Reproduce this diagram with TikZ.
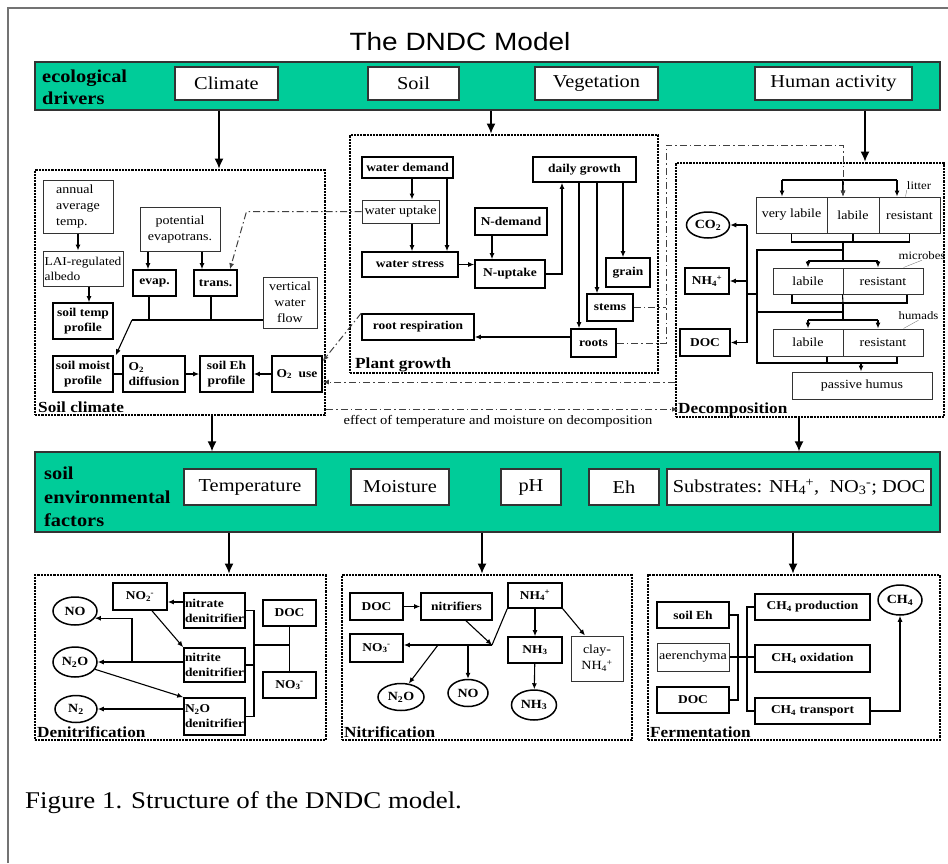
\documentclass[tikz,border=0pt]{standalone}
\usepackage{fontspec}
\setmainfont{Liberation Serif}[FakeStretch=1.12]
\newfontfamily\titlefont{Liberation Sans}[FakeStretch=1.12]
\usetikzlibrary{shapes.geometric, arrows.meta}
\definecolor{bandgreen}{RGB}{0,204,153}
\newcommand{\chg}[2]{\textsubscript{#1}\kern-0.5pt\textsuperscript{#2}}

\begin{document}
\begin{tikzpicture}[x=1pt, y=-1pt, >={Latex[length=6pt,width=5pt]},  % 以像素为单位, y 轴向下
    wh/.style 2 args={minimum width=#1, minimum height=#2},
    band/.style={draw=black!80, line width=1.3pt, fill=bandgreen, inner sep=0pt},
    drv/.style={draw=black!80, line width=1.5pt, fill=white, inner sep=0pt, font=\fontsize{18.2}{21}\selectfont},
    bx/.style={draw, line width=1.6pt, inner sep=0pt, align=center, font=\bfseries\fontsize{12}{15}\selectfont},
    tbx/.style={draw=black!80, line width=1pt, inner sep=0pt, align=center, font=\fontsize{12.5}{16}\selectfont},
    gas/.style={ellipse, draw, line width=1.5pt, inner sep=0pt, font=\bfseries\fontsize{12.5}{15}\selectfont},
    sect/.style={draw, line width=2.8pt, dash pattern=on 2.2pt off 1pt, inner sep=0pt},
    slabel/.style={anchor=base west, inner sep=0pt, font=\bfseries\fontsize{15.4}{17}\selectfont},
    tag/.style={inner sep=0pt, font=\fontsize{11.4}{13}\selectfont},
    lnk/.style={line width=1.1pt},
    dd/.style={black!75, line width=1pt, dash pattern=on 7pt off 3pt on 1.5pt off 3pt},
    big/.style={line width=1.3pt, -{Latex[length=10pt,width=9pt]}}]
    \useasboundingbox (0,0) rectangle (948,863);
    \draw[black!55, line width=1.5pt] (8,863) -- (8,8) -- (948,8);  % 页面边框

    % 标题与生态驱动因子
    \node[font=\titlefont\fontsize{25}{28}\selectfont] (title) at (460,42) {The DNDC Model};
    \node[band, wh={905}{48}] (drivers) at (487.5,86) {};
    \node[anchor=west, align=left, inner sep=0pt, font=\bfseries\fontsize{18.2}{22}\selectfont] (drvtxt) at (42,87) {ecological\\drivers};
    \node[drv, wh={103}{33}] (climate) at (226.5,83.5) {Climate};
    \node[drv, wh={91}{33}] (soil) at (413.5,83.5) {Soil};
    \node[drv, wh={123}{33}] (veg) at (596.5,83.5) {Vegetation};
    \node[drv, wh={157}{33}] (human) at (833.5,83.5) {Human activity};

    % 三个子模型的虚线框
    \node[sect, wh={290}{245}] (soilclim) at (180,292.5) {};
    \node[sect, wh={308}{238}] (plant) at (504,254) {};
    \node[sect, wh={268}{254}] (decomp) at (810,290) {};
    \node[slabel] (scl) at (38,412) {Soil climate};
    \node[slabel] (pgl) at (355,368) {Plant growth};
    \node[slabel] (dcl) at (678,413) {Decomposition};

    \draw[big] ([xshift=-7.5]climate.south |- drivers.south) -- ([xshift=-7.5]climate.south |- soilclim.north);
    \draw[big] ([xshift=-13]plant.north |- drivers.south) -- ([xshift=-13]plant.north);
    \draw[big] ([xshift=31.5]human.south |- drivers.south) -- ([xshift=31.5]human.south |- decomp.north);

    % Soil climate
    \node[tbx, wh={70}{53}, align=left] (annual) at (78,206.5) {annual\\average\\temp.};
    \node[tbx, wh={80}{35}, align=left, font=\fontsize{12}{15}\selectfont] (lai) at (83,268.5) {LAI-regulated\\albedo};
    \node[bx, wh={60}{36}] (stemp) at (83,321) {soil temp\\profile};
    \node[tbx, wh={80}{44}] (pet) at (180,229) {potential\\evapotrans.};
    \node[bx, wh={43}{26}] (evap) at (154.5,283) {evap.};
    \node[bx, wh={43}{26}] (trans) at (215.5,283) {trans.};
    \node[tbx, wh={54}{51}] (vflow) at (290,302.5) {vertical\\water\\flow};
    \node[bx, wh={60}{36}] (smoist) at (83,374) {soil moist\\profile};
    \node[bx, wh={62}{36}, align=left] (o2diff) at (154,374) {O\textsubscript{2}\\diffusion};
    \node[bx, wh={53}{36}] (seh) at (226.5,374) {soil Eh\\profile};
    \node[bx, wh={50}{36}] (o2use) at (297,374) {O\textsubscript{2}\ \ use};

    \draw[lnk,->] (annual.south) -- (annual.south |- lai.north);
    \draw[lnk,->] ([xshift=6]lai.south) -- ([xshift=6]lai.south |- stemp.north);
    \draw[lnk,->] ([xshift=-6.5]evap.north |- pet.south) -- ([xshift=-6.5]evap.north);
    \draw[lnk,->] ([xshift=-13.5]trans.north |- pet.south) -- ([xshift=-13.5]trans.north);
    \coordinate (wj) at (132,320);
    \draw[lnk] ([xshift=-5.5]evap.south) -- ([xshift=-5.5]evap.south |- wj);
    \draw[lnk] ([xshift=-4.5]trans.south) -- ([xshift=-4.5]trans.south |- wj);
    \draw[lnk] (vflow.west |- wj) -- (wj);
    \draw[lnk,->] (wj) -- ([xshift=2]smoist.north east);
    \draw[lnk] (smoist) -- (o2diff);
    \draw[lnk,->] (o2diff) -- (seh);
    \draw[lnk,->] (o2use) -- (seh);

    % Plant growth
    \node[bx, wh={91}{21}] (wdem) at (407.5,167.5) {water demand};
    \node[tbx, wh={77}{23}] (wup) at (400.5,211.5) {water uptake};
    \node[bx, wh={72}{27}] (ndem) at (511,221.5) {N-demand};
    \node[bx, wh={96}{25}] (wstr) at (410,264.5) {water stress};
    \node[bx, wh={70}{28}] (nupt) at (510,274) {N-uptake};
    \node[bx, wh={103}{25}] (dgrow) at (584.5,169.5) {daily growth};
    \node[bx, wh={44}{29}] (grain) at (628,272.5) {grain};
    \node[bx, wh={46}{27}] (stems) at (610,307.5) {stems};
    \node[bx, wh={45}{28}] (roots) at (593.5,343) {roots};
    \node[bx, wh={112}{26}] (rresp) at (418,327) {root respiration};

    \draw[lnk,->] ([xshift=4.5]wdem.south) -- ([xshift=4.5]wdem.south |- wup.north);
    \draw[lnk,->] ([xshift=39.5]wdem.south) -- ([xshift=39.5]wdem.south |- wstr.north);
    \draw[lnk,->] ([xshift=11.5]wup.south) -- ([xshift=11.5]wup.south |- wstr.north);
    \draw[lnk,->] ([xshift=-19]ndem.south) -- ([xshift=-19]ndem.south |- nupt.north);
    \draw[lnk,->] (wstr.east) -- (wstr.east -| nupt.west);
    \draw[lnk,->] (nupt.east) -| ([xshift=-22.5]dgrow.south);
    \draw[lnk,->] ([xshift=-5.5]dgrow.south) -- ([xshift=-5.5]dgrow.south |- roots.north);
    \draw[lnk,->] ([xshift=12.5]dgrow.south) -- ([xshift=12.5]dgrow.south |- stems.north);
    \draw[lnk,->] ([xshift=38.5]dgrow.south) -- ([xshift=38.5]dgrow.south |- grain.north);
    \draw[lnk,->] ([yshift=6]roots.west) -- ([yshift=6]roots.west -| rresp.east);

    % Decomposition
    \node[tbx, wh={71}{36}] (lvl) at (791.5,215) {very labile};
    \node[tbx, wh={52}{36}] (llab) at (853,215) {labile};
    \node[tbx, wh={61}{36}] (lres) at (909.5,215) {resistant};
    \node[tbx, wh={70}{26}] (mlab) at (808,281) {labile};
    \node[tbx, wh={80}{26}] (mres) at (883,281) {resistant};
    \node[tbx, wh={70}{27}] (hlab) at (808,342.5) {labile};
    \node[tbx, wh={80}{27}] (hres) at (883,342.5) {resistant};
    \node[tbx, wh={140}{27}] (phum) at (862,385.5) {passive humus};
    \node[gas, wh={43}{26}] (co2) at (708,225) {CO\textsubscript{2}};
    \node[bx, wh={44}{26}] (nh4) at (707,281) {NH\chg{4}{+}};
    \node[bx, wh={50}{27}] (doc) at (705,342.5) {DOC};
    \node[tag] (lit) at (919,186) {litter};
    \node[tag] (mic) at (922,256) {microbes};
    \node[tag] (hum) at (918.5,316) {humads};
    \draw[black!50] (lit.south west) -- ([xshift=-4]lres.north);
    \draw[black!50] (mic.south) -- ([xshift=-20]mres.north east);
    \draw[black!50] (hum.south) -- ([xshift=-20]hres.north east);

    \coordinate (ltop) at (843,180);
    \draw[lnk] ([xshift=-9.5]lvl.north |- ltop) -- ([xshift=-12.5]lres.north |- ltop);
    \draw[lnk,->] ([xshift=-9.5]lvl.north |- ltop) -- ([xshift=-9.5]lvl.north);
    \draw[lnk,->] ([xshift=-10]llab.north |- ltop) -- ([xshift=-10]llab.north);
    \draw[lnk,->] ([xshift=-12.5]lres.north |- ltop) -- ([xshift=-12.5]lres.north);
    \coordinate (lout) at (843,242);
    \draw[lnk] (lvl.south) |- (lres.south |- lout) -- (lres.south);
    \draw[lnk] (llab.south) -- (llab.south |- lout);
    \coordinate (mtop) at (843,261);
    \draw[lnk] (lout) -- (mtop);
    \draw[lnk] (mlab.north |- mtop) -- ([xshift=-5]mres.north |- mtop);
    \draw[lnk,->] (mlab.north |- mtop) -- (mlab.north);
    \draw[lnk,->] ([xshift=-5]mres.north |- mtop) -- ([xshift=-5]mres.north);
    \coordinate (mout) at (843,303);
    \draw[lnk] ([xshift=-16]mlab.south) |- ([xshift=24]mres.south |- mout) -- ([xshift=24]mres.south);
    \draw[lnk] (mres.south west) -- (mout);
    \coordinate (htop) at (843,320);
    \draw[lnk] (mout) -- (htop);
    \draw[lnk] (hlab.north |- htop) -- ([xshift=-5]hres.north |- htop);
    \draw[lnk,->] (hlab.north |- htop) -- (hlab.north);
    \draw[lnk,->] ([xshift=-5]hres.north |- htop) -- ([xshift=-5]hres.north);
    \coordinate (hout) at (861,363);
    \draw[lnk] ([xshift=19]hlab.south) |- ([xshift=14]hres.south |- hout) -- ([xshift=14]hres.south);
    \draw[lnk,->] (hout) -- (hout |- phum.north);
    % 左侧主干与产物
    \coordinate (tk) at (757,250);
    \coordinate (mj) at (843,312);
    \draw[lnk] (lout |- tk) -- (tk) -- (tk |- hout) -- ([xshift=19]hlab.south |- hout);
    \draw[lnk] (tk |- mj) -- (mj);
    \coordinate (bus) at (747,294);
    \draw[lnk] (bus) -- (bus -| tk);
    \draw[lnk] (bus |- co2.east) -- (bus |- doc.east);
    \draw[lnk,->] (bus |- co2.east) -- (co2.east);
    \draw[lnk,->] (bus |- nh4.east) -- (nh4.east);
    \draw[lnk,->] (bus |- doc.east) -- (doc.east);

    % 点划线: 模块之间的联系
    \draw[dd,->] (wup.west) -- ++(-115,0) -- ([xshift=14.5]trans.north);
    \draw[dd,->] (rresp.north west) -- ([yshift=13]o2use.east);
    \draw[dd,->] ([yshift=-8]o2use.east -| decomp.west) -- ([yshift=-8]o2use.east);
    \coordinate (lp) at (666,145);
    \draw[dd] (stems.east) -- (stems.east -| lp);
    \draw[dd,->] (roots.east) -| (lp) -| ([xshift=-10]llab.north);
    \draw[dd,->] (soilclim.east |- dcl.west) -- (dcl.west);
    \node[font=\fontsize{13}{15}\selectfont] (effect) at (498,421) {effect of temperature and moisture on decomposition};

    % 土壤环境因子
    \node[band, wh={905}{80}] (factors) at (487.5,492) {};
    \node[anchor=west, align=left, inner sep=0pt, font=\bfseries\fontsize{18.2}{23.5}\selectfont] (factxt) at (44,497) {soil\\environmental\\factors};
    \node[drv, wh={132}{36}] (temp) at (250,487) {Temperature};
    \node[drv, wh={98}{36}] (moist) at (400,487) {Moisture};
    \node[drv, wh={60}{36}] (ph) at (531,487) {pH};
    \node[drv, wh={70}{36}] (eh) at (624,487) {Eh};
    \node[drv, wh={264}{36}] (subs) at (799,487) {Substrates: NH\chg{4}{+}, \ NO\chg{3}{-}; DOC};
    \draw[big] ([xshift=32]soilclim.south) -- ([xshift=32]soilclim.south |- factors.north);
    \draw[big] ([xshift=-11]decomp.south) -- ([xshift=-11]decomp.south |- factors.north);

    % 下面三个过程
    \node[sect, wh={291}{165}] (denit) at (180.5,657.5) {};
    \node[sect, wh={290}{165}] (nitri) at (487,657.5) {};
    \node[sect, wh={292}{165}] (ferm) at (794,657.5) {};
    \node[slabel] (dnl) at (37,737) {Denitrification};
    \node[slabel] (nil) at (344,737) {Nitrification};
    \node[slabel] (fel) at (650,737) {Fermentation};
    \draw[big] ([xshift=48.5]denit.north |- factors.south) -- ([xshift=48.5]denit.north);
    \draw[big] ([xshift=-5]nitri.north |- factors.south) -- ([xshift=-5]nitri.north);
    \draw[big] ([xshift=-1]ferm.north |- factors.south) -- ([xshift=-1]ferm.north);

    % Denitrification
    \node[gas, wh={44}{28}] (no1) at (75,611) {NO};
    \node[gas, wh={44}{30}] (n2o1) at (75,662) {N\textsubscript{2}O};
    \node[gas, wh={42}{27}] (n21) at (76,709) {N\textsubscript{2}};
    \node[bx, wh={54}{27}] (no2) at (140,596.5) {NO\chg{2}{-}};
    \node[bx, wh={61}{35}, align=left] (ntrd) at (214.5,610.5) {nitrate\\denitrifier};
    \node[bx, wh={61}{34}, align=left] (ntid) at (214.5,665) {nitrite\\denitrifier};
    \node[bx, wh={61}{37}, align=left] (n2od) at (214.5,716.5) {N\textsubscript{2}O\\denitrifier};
    \node[bx, wh={53}{26}] (doc1) at (289.5,613) {DOC};
    \node[bx, wh={53}{26}] (no31) at (289.5,685) {NO\chg{3}{-}};

    \draw[lnk,->] ([yshift=8.5]ntrd.west) -- ([yshift=8.5]ntrd.west -| no2.east);
    \draw[lnk,->] ([xshift=12]no2.south) -- (ntid.north west);
    \draw[lnk,->] (n2o1.east -| ntid.west) -- (n2o1.east);
    \coordinate (nj) at (132,662);
    \draw[lnk,->] (nj) |- (no1.-20);
    \draw[lnk,->] (n2o1.-20) -- (n2od.north west);
    \draw[lnk,->] (n21.east -| n2od.west) -- (n21.east);
    \coordinate (dbus) at (254,645);
    \draw[lnk] (ntrd.east) -- (ntrd.east -| dbus) -- (n2od.east -| dbus) -- (n2od.east);
    \draw[lnk] (ntid.east) -- (ntid.east -| dbus);
    \draw[lnk] (dbus) -- (dbus -| doc1);
    \draw[lnk] (doc1.south) -- (no31.north);

    % Nitrification
    \node[bx, wh={53}{27}] (doc2) at (376.5,606.5) {DOC};
    \node[bx, wh={71}{27}] (nitr) at (456.5,606.5) {nitrifiers};
    \node[bx, wh={54}{25}] (nh4b) at (535,595.5) {NH\chg{4}{+}};
    \node[bx, wh={53}{28}] (no32) at (376.5,648) {NO\chg{3}{-}};
    \node[bx, wh={54}{26}] (nh3b) at (535,650) {NH\textsubscript{3}};
    \node[tbx, wh={52}{45}] (clay) at (597,658.5) {clay-\\NH\chg{4}{+}};
    \node[gas, wh={46}{27}] (n2o2) at (401,697) {N\textsubscript{2}O};
    \node[gas, wh={40}{27}] (no2e) at (468,693) {NO};
    \node[gas, wh={45}{30}] (nh3e) at (534,705) {NH\textsubscript{3}};

    \draw[lnk,->] (doc2) -- (nitr);
    \coordinate (nj2) at (492,645);
    \draw[lnk,->] ([xshift=9.5]nitr.south) -- (nj2);
    \draw[lnk] (nh4b.south west) -- (nj2);
    \draw[lnk,->] (nj2) -- (nj2 -| no32.east);
    \draw[lnk,->] ([xshift=-54]nj2) -- (n2o2.60);
    \draw[lnk,->] (no2e.north |- nj2) -- (no2e.north);
    \draw[lnk,->] (nh4b) -- (nh3b);
    \draw[lnk,->] (nh4b.south east) -- ([xshift=-12]clay.north);
    \draw[lnk,->] (nh3b) -- (nh3e);

    % Fermentation
    \node[bx, wh={72}{26}] (seh2) at (693,615) {soil Eh};
    \node[tbx, wh={72}{28}] (aer) at (693,657) {aerenchyma};
    \node[bx, wh={72}{26}] (doc3) at (693,700) {DOC};
    \node[bx, wh={115}{26}] (ch4p) at (812.5,607) {CH\textsubscript{4} production};
    \node[bx, wh={115}{27}] (ch4o) at (812.5,658.5) {CH\textsubscript{4} oxidation};
    \node[bx, wh={115}{26}] (ch4t) at (812.5,711) {CH\textsubscript{4} transport};
    \node[gas, wh={44}{30}] (ch4e) at (900,600) {CH\textsubscript{4}};

    \coordinate (fb1) at (738,657);
    \coordinate (fb2) at (747,657);
    \draw[lnk] (seh2.east) -- (seh2.east -| fb1) -- (doc3.east -| fb1) -- (doc3.east);
    \draw[lnk] (aer.east) -- (aer.east -| ch4o.west);
    \draw[lnk] (ch4p.west) -- (ch4p.west -| fb2) -- (ch4t.west -| fb2) -- (ch4t.west);
    \draw[lnk,->] (ch4t.east) -| (ch4e.south);

    % 图题
    \node[anchor=base west, inner sep=0pt, font=\fontsize{24}{28}\selectfont] (cap) at (25,808) {Figure 1. Structure of the DNDC model.};
\end{tikzpicture}
\end{document}
